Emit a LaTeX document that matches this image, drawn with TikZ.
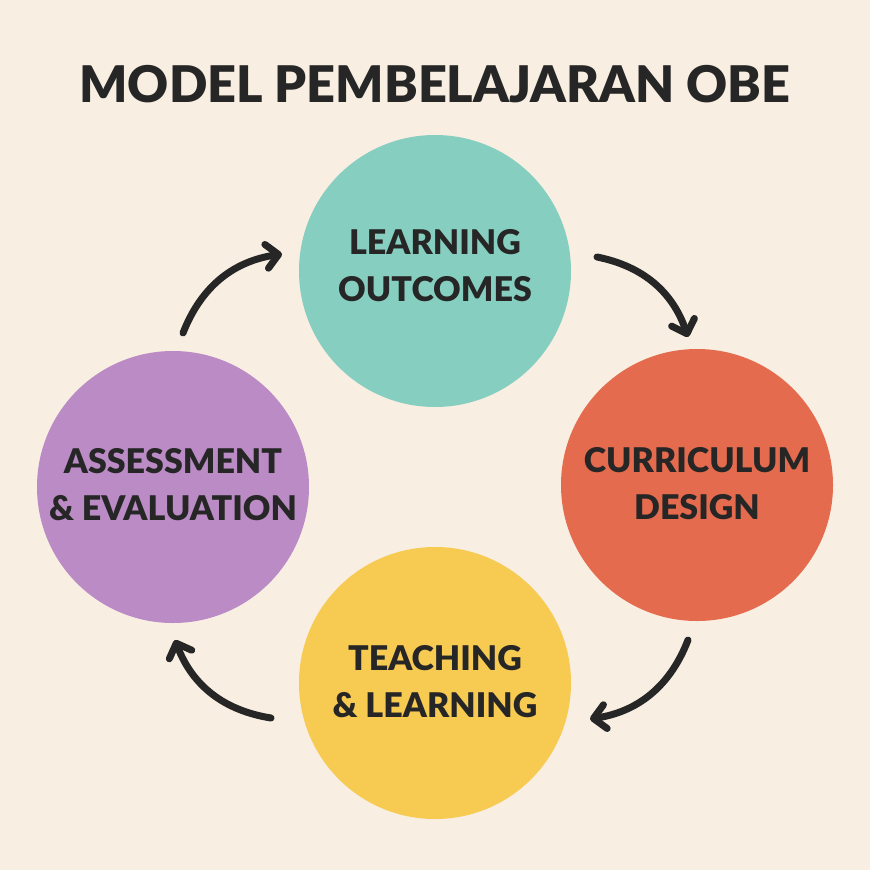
\documentclass[tikz,border=0pt]{standalone}
\usepackage{fontspec}
\setmainfont{Lato}
\newfontfamily\heavy{Lato}[UprightFont=* Black]
\usetikzlibrary{arrows.meta}
\definecolor{bg}{HTML}{F8EEE2}
\definecolor{ink}{HTML}{262626}
\definecolor{cteal}{HTML}{86CFC0}
\definecolor{corange}{HTML}{E56B4E}
\definecolor{cyellow}{HTML}{F7CA52}
\definecolor{cpurple}{HTML}{BB8BC6}
\tikzset{
  stage/.style={circle, minimum size=272pt, inner sep=0pt},
  stagetext/.style={align=center, inner sep=0pt,
    font=\heavy\fontsize{34}{47}\selectfont, text=ink},
  cyc/.style={draw=ink, line width=7pt, line cap=round,
    -{Straight Barb[length=12pt, width=24pt, line width=7pt, line cap=round, line join=round]}},
}
\begin{document}
\begin{tikzpicture}[x=1pt,y=-1pt]
\fill[bg] (0,0) rectangle (870,870);
\useasboundingbox (0,0) rectangle (870,870);
\node[font=\heavy\fontsize{50.5}{52}\selectfont, text=ink] (title) at (435,84) {MODEL PEMBELAJARAN OBE};
\node[stage, fill=cteal] (lo) at (435,271) {};
\node[stage, fill=corange] (cd) at (697,485) {};
\node[stage, fill=cyellow] (tl) at (435,683) {};
\node[stage, fill=cpurple] (ae) at (173,487) {};
\node[stagetext] (lot) at ([yshift=5pt]lo.center) {LEARNING\\OUTCOMES};
\node[stagetext] (cdt) at ([yshift=1pt]cd.center) {CURRICULUM\\DESIGN};
\node[stagetext] (tlt) at ([yshift=1pt]tl.center) {TEACHING\\\& LEARNING};
\node[stagetext] (aet) at ([yshift=2pt]ae.center) {ASSESSMENT\\\& EVALUATION};
\coordinate (a1s) at (183,333); \coordinate (a1e) at (282,254);
\coordinate (a2s) at (597,257); \coordinate (a2e) at (688,337);
\coordinate (a3s) at (688,640); \coordinate (a3e) at (590,719);
\coordinate (a4s) at (271,718); \coordinate (a4e) at (175,640);
\draw[cyc] (a1s) to[bend left=30] (a1e);
\draw[cyc] (a2s) to[bend left=30] (a2e);
\draw[cyc] (a3s) to[bend left=30] (a3e);
\draw[cyc] (a4s) to[bend left=30] (a4e);
\end{tikzpicture}
\end{document}
